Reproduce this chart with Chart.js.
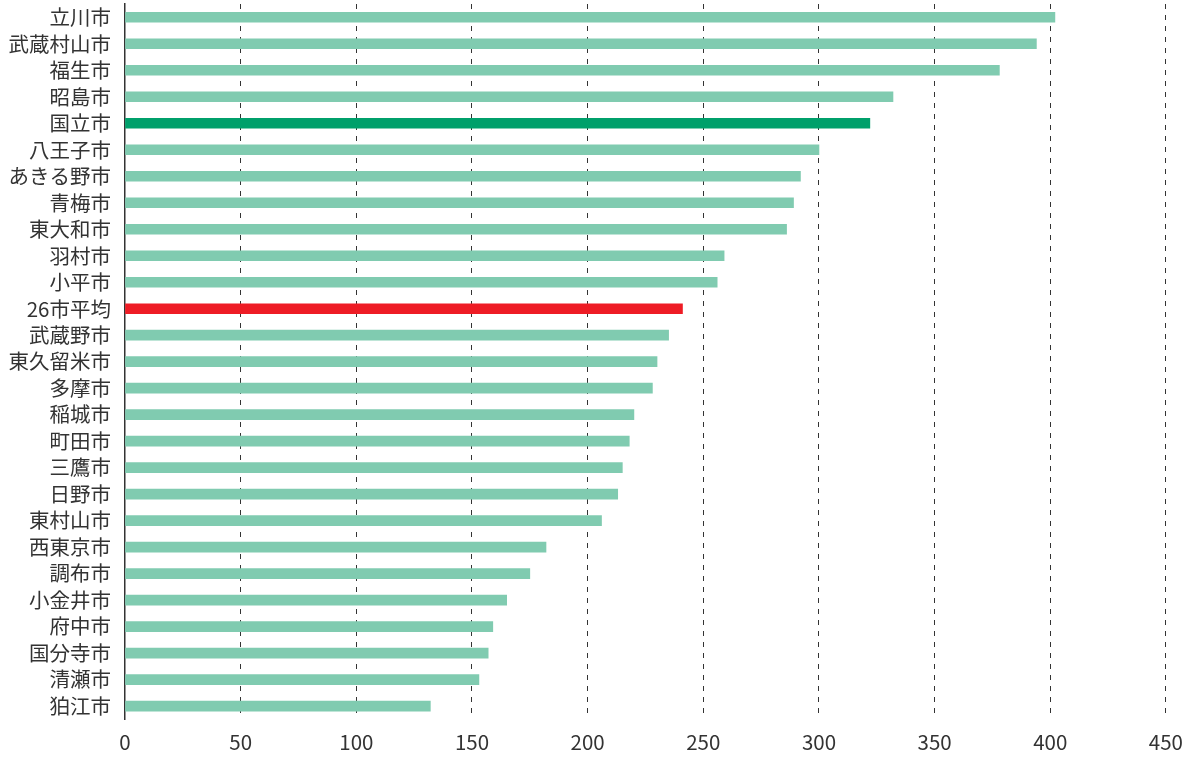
<!DOCTYPE html>
<html lang="ja">
<head>
<meta charset="utf-8">
<script src="https://cdn.jsdelivr.net/npm/chart.js@4/dist/chart.umd.min.js"></script>
<style>
  html, body { margin: 0; padding: 0; background: #fff; }
  #wrap { width: 1194px; height: 760px; position: relative; }
</style>
</head>
<body>
<div id="wrap"><canvas id="grafico"></canvas></div>
<script>
const cidades = [
    '立川市', '武蔵村山市', '福生市', '昭島市', '国立市', '八王子市', 'あきる野市',
    '青梅市', '東大和市', '羽村市', '小平市', '26市平均', '武蔵野市', '東久留米市',
    '多摩市', '稲城市', '町田市', '三鷹市', '日野市', '東村山市', '西東京市',
    '調布市', '小金井市', '府中市', '国分寺市', '清瀬市', '狛江市'
];

const valores = [
    402, 394, 378, 332, 322, 300, 292,
    289, 286, 259, 256, 241, 235, 230,
    228, 220, 218, 215, 213, 206, 182,
    175, 165, 159, 157, 153, 132
];

const ticksX = [0, 50, 100, 150, 200, 250, 300, 350, 400, 450];

const destaque = '国立市';
const media = '26市平均';

function corBarra(nome) {
    if (nome === destaque) return '#00a06b';
    if (nome === media) return '#ee1c25';
    return '#80cbb0';
}

const fonte = '"Noto Sans CJK JP", "Noto Sans", sans-serif';

new Chart(document.getElementById('grafico').getContext('2d'), {
    type: 'bar',
    data: {
        labels: cidades,
        datasets: [{
            data: valores,
            backgroundColor: cidades.map(corBarra),
            barThickness: 10,
            borderWidth: 0
        }]
    },
    options: {
        indexAxis: 'y',
        responsive: true,
        maintainAspectRatio: false,
        animation: false,
        layout: { padding: { top: 4, right: 5, bottom: -6, left: 8 } },
        plugins: {
            legend: { display: false },
            tooltip: { enabled: false }
        },
        scales: {
            x: {
                min: 0,
                max: 450,
                z: 1,
                afterBuildTicks(axis) {
                    axis.ticks = ticksX.map(v => ({ value: v }));
                },
                grid: {
                    color: ctx => (ctx.tick && ctx.tick.value === 0 ? 'rgba(0,0,0,0)' : '#333'),
                    lineWidth: 1,
                    drawTicks: false
                },
                border: { display: false, dash: [5, 6] },
                ticks: {
                    color: '#333',
                    font: { family: fonte, size: 20.5 },
                    padding: 11
                }
            },
            y: {
                grid: { display: false, drawTicks: false },
                border: { display: true, color: '#333', width: 1.5 },
                ticks: {
                    color: '#333',
                    font: { family: fonte, size: 20.5 },
                    padding: 14,
                    autoSkip: false
                },
                afterFit(scale) {
                    scale.width = 117;
                    scale.paddingTop = 0;
                    scale.paddingBottom = 0;
                }
            }
        }
    }
});
</script>
</body>
</html>
